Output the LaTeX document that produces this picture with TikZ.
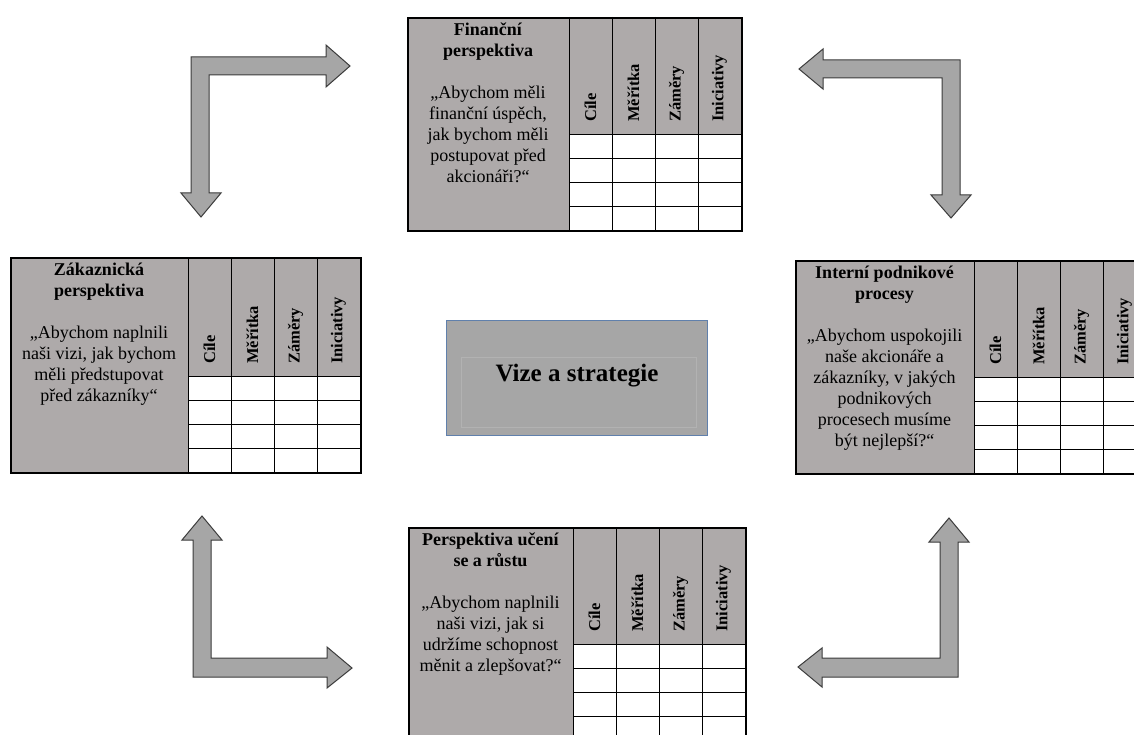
\documentclass[tikz,border=0pt]{standalone}
\usepackage{fontspec}
\setmainfont{Liberation Serif}
\definecolor{tablegray}{RGB}{174,170,170}
\definecolor{arrowgray}{RGB}{166,166,166}
\definecolor{arrowline}{RGB}{60,60,60}
\definecolor{visionblue}{RGB}{96,128,172}
\definecolor{innerframe}{RGB}{178,178,178}

\tikzset{
  persp/.style={align=center, anchor=north, inner sep=0pt,
                font=\fontsize{18}{21}\selectfont},
  colhead/.style={rotate=90, anchor=west, inner sep=0pt,
                  font=\bfseries\fontsize{16.5}{18}\selectfont},
  gridline/.style={draw=black, line width=0.9pt},
  tableframe/.style={draw=black, line width=2pt, inner sep=0pt, anchor=north west},
  blockarrow/.style={fill=arrowgray, draw=arrowline, line width=1pt, line join=miter},
}

% #1 name, #2 left, #3 top, #4 width of the grey text column,
% #5 width of one measure column, #6 header height, #7 row height, #8 text
\newcommand{\bsctable}[8]{%
  \fill[white] (#2+#4,#3+#6) rectangle (#2+#4+4*#5,#3+#6+4*#7);
  \fill[tablegray] (#2,#3) rectangle (#2+#4,#3+#6+4*#7);
  \fill[tablegray] (#2+#4,#3) rectangle (#2+#4+4*#5,#3+#6);
  \foreach \k in {0,1,2,3}{
    \draw[gridline] (#2+#4+\k*#5,#3) -- (#2+#4+\k*#5,#3+#6+4*#7);
    \draw[gridline] (#2+#4,#3+#6+\k*#7) -- (#2+#4+4*#5,#3+#6+\k*#7);
  }
  \foreach \lab [count=\k from 0] in {Cíle,Měřítka,Záměry,Iniciativy}
    \node[colhead] (#1-col\k) at (#2+#4+\k*#5+0.5*#5,#3+#6-12) {\lab};
  \node[persp] (#1-text) at (#2+0.5*#4,#3+6) {#8};
  \node[tableframe, minimum width={#4pt+4*#5pt}, minimum height={#6pt+4*#7pt}]
    (#1) at (#2,#3) {};
}

\begin{document}
\begin{tikzpicture}[x=1pt,y=-1pt]
\useasboundingbox (0,0) rectangle (1134,735);
\clip (0,0) rectangle (1134,735);
\fill[white] (0,0) rectangle (1134,735);

% the four perspectives
\bsctable{fin}{407}{17}{162}{43}{117}{24}{%
  \textbf{Finanční}\\\textbf{perspektiva}\\[21pt]
  „Abychom měli\\finanční úspěch,\\jak bychom měli\\postupovat před\\akcionáři?“}
\bsctable{zak}{10}{257}{178}{43}{119}{24}{%
  \textbf{Zákaznická}\\\textbf{perspektiva}\\[21pt]
  „Abychom naplnili\\naši vizi, jak bychom\\měli předstupovat\\před zákazníky“}
\bsctable{int}{795}{260}{179}{43}{117}{24}{%
  \textbf{Interní podnikové}\\\textbf{procesy}\\[21pt]
  „Abychom uspokojili\\naše akcionáře a\\zákazníky, v jakých\\podnikových\\procesech musíme\\být nejlepší?“}
\bsctable{uce}{408}{527}{165}{43}{117}{24.3}{%
  \textbf{Perspektiva učení}\\\textbf{se a růstu}\\[21pt]
  „Abychom naplnili\\naši vizi, jak si\\udržíme schopnost\\měnit a zlepšovat?“}

% vision and strategy in the middle
\node[fill=arrowgray, draw=visionblue, line width=1.2pt, anchor=north west,
      minimum width=261pt, minimum height=115pt, inner sep=0pt] (vize) at (446,320) {};
\draw[innerframe, line width=0.6pt] (461,357) rectangle (696,427);
\node[anchor=base, inner sep=0pt, font=\bfseries\fontsize{25}{28}\selectfont]
  (vize-label) at (577,381) {Vize a strategie};

% bent block arrows between the perspectives
\filldraw[blockarrow] (201,217) -- (221,193) -- (209,193) -- (209,75) -- (326,75)
  -- (326,87) -- (350,66) -- (326,45) -- (326,57) -- (191,57) -- (191,193)
  -- (181,193) -- cycle;
\filldraw[blockarrow] (799,69) -- (823,49) -- (823,60) -- (960,60) -- (960,195)
  -- (971,195) -- (951,218) -- (931,195) -- (942,195) -- (942,78) -- (823,78)
  -- (823,89) -- cycle;
\filldraw[blockarrow] (202,516) -- (222,540) -- (211,540) -- (211,658) -- (327,658)
  -- (327,647) -- (352,668) -- (327,688) -- (327,677) -- (193,677) -- (193,540)
  -- (182,540) -- cycle;
\filldraw[blockarrow] (949,518) -- (969,542) -- (958,542) -- (958,677) -- (822,677)
  -- (822,687) -- (798,667) -- (822,648) -- (822,658) -- (940,658) -- (940,542)
  -- (929,542) -- cycle;
\end{tikzpicture}
\end{document}
